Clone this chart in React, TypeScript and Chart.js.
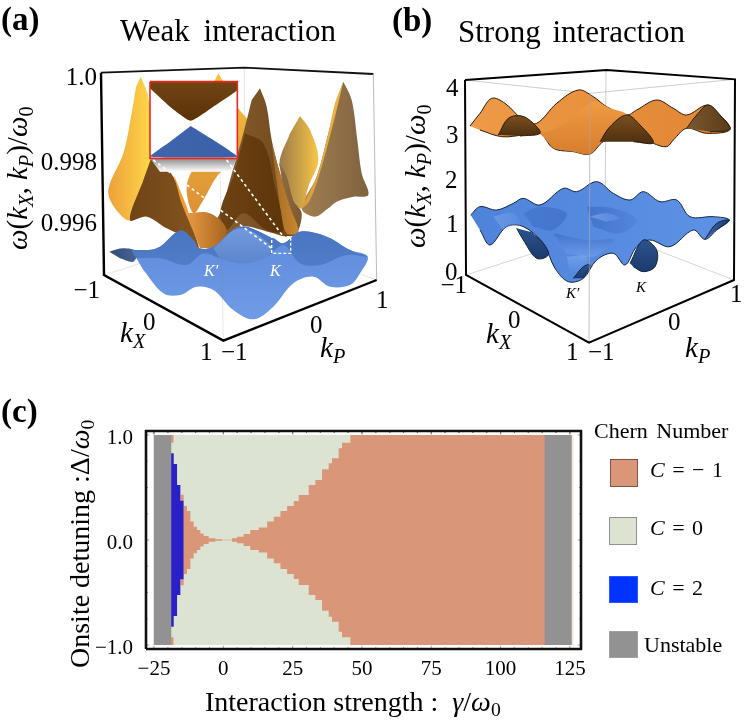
import React, { useEffect, useRef } from "react";
import { Chart, registerables } from "chart.js";
Chart.register(...registerables);

const SERIF = "'Liberation Serif', serif";

// ---------- panel (c) values ----------
const xMajorTicks = [-25, 0, 25, 50, 75, 100, 125];
const yMajorTicks = [-1, 0, 1];
const xMinorTicks = [-20, -15, -10, -5, 5, 10, 15, 20, 30, 35, 40, 45, 55, 60, 65, 70, 80, 85, 90, 95, 105, 110, 115, 120];
const yMinorTicks = [-0.75, -0.5, -0.25, 0.25, 0.5, 0.75];
const xRange = [-27.9, 129];
const yRange = [-1.038, 1.038];
const unstableLeftX = [-25.2, -18.7];
const unstableRightX = [115.8, 125.7];
const unstablePaleX = [125.4, 126.4];
const chernZeroX = [-19.2, 47.5];
const chernMinusCornerX = [-18.9, -17.9];
const chernMinusCornerEdge = 0.927;
const chernMinusX = [-15.5, -14.3, -13.1, -11.9, -10.7, -9.5, -8.3, -7.1, -5.3, -2.9, -0.5, 3.1, 4.9, 7.3, 9.7, 12.8, 15.8, 18.2, 20.6, 23, 25.4, 27.2, 30.8, 33.2, 35.6, 38, 39.2, 41.6, 42.8, 45.8, 116.4];
const chernMinusEdge = [0.43, 0.324, 0.276, 0.175, 0.127, 0.095, 0.063, 0.038, 0.016, 0.006, 0.003, 0.016, 0.032, 0.057, 0.095, 0.118, 0.175, 0.222, 0.276, 0.324, 0.371, 0.429, 0.524, 0.571, 0.673, 0.73, 0.778, 0.873, 0.927, 1, 1];
const chernTwoX = [-19.2, -17.9, -16.7, -15.5, -14.3];
const chernTwoEdge = [0.825, 0.724, 0.524, 0.373, 0.373];

// ---------- panels (a) and (b): projected outlines, in view-plane units ----------
const viewA = [0, 2241];
const viewB = [-1140, 1101];
const viewY = [0, 1170];
type P = number[][];
const aFrameThick: P = [[303, 218], [312, 825], [670, 1022], [1130, 840]];
const aFrameTop: P = [[303, 218], [733, 203], [1120, 222]];
const aFrameRight: P = [[1120, 222], [1130, 840]];
const aFloor1: P = [[312, 825], [735, 690]];
const aFloor2: P = [[735, 690], [1130, 840]];
const aFront: P = [[670, 1022], [655, 240]];
const aBackEdge: P = [[733, 203], [735, 690]];

const aPeakRightBody: P = [[1030, 245], [1055, 300], [1072, 420], [1085, 520], [1105, 585], [1060, 590], [1010, 605], [985, 625], [945, 650], [905, 625], [950, 530], [985, 400], [1010, 300]];
const aPeakRightGold: P = [[1030, 245], [1005, 310], [985, 400], [950, 530], [905, 625], [930, 600], [965, 500], [1005, 350]];
const aPeakMidGold: P = [[900, 348], [930, 390], [955, 480], [925, 560], [905, 625], [880, 600], [860, 540], [838, 490], [870, 400]];
const aPeakMidShade: P = [[838, 490], [860, 530], [880, 600], [905, 640], [890, 695], [860, 640]];
const aPeakBack: P = [[655, 220], [685, 270], [712, 320], [750, 375], [735, 420], [700, 480], [650, 530], [610, 600], [580, 640], [560, 560], [590, 480], [620, 360], [640, 250]];
const aPeakCentre: P = [[780, 265], [800, 320], [815, 420], [840, 520], [870, 620], [895, 695], [860, 710], [820, 700], [720, 680], [650, 730], [620, 700], [660, 640], [690, 540], [730, 400], [755, 300]];
const aPeakCentreDark: P = [[735, 400], [790, 430], [825, 560], [850, 690], [800, 690], [730, 640], [680, 690], [660, 640], [700, 530]];
const aSlopeRight: P = [[815, 430], [840, 520], [870, 620], [895, 695], [860, 700], [840, 620]];
const aFunnelRim: P = [[520, 520], [560, 620], [597, 745], [575, 720], [545, 640]];
const aFunnelFront: P = [[560, 640], [630, 640], [680, 690], [650, 740], [600, 745]];
const aPeakLeftGold: P = [[422, 230], [442, 280], [455, 380], [455, 480], [430, 540], [390, 660], [345, 625], [325, 570], [370, 460], [395, 340], [408, 260]];
const aPeakLeftShade: P = [[455, 470], [490, 500], [520, 530], [545, 610], [597, 745], [560, 715], [500, 685], [440, 650], [390, 660], [430, 540]];
const aBlueBack: P = [[328, 755], [370, 745], [410, 755], [400, 785], [360, 775]];
const aBlueBody: P = [[395, 750], [470, 745], [540, 692], [580, 720], [597, 745], [640, 740], [720, 680], [820, 715], [850, 730], [900, 695], [980, 710], [1050, 750], [1103, 770], [1080, 820], [1050, 855], [990, 860], [940, 830], [880, 850], [820, 920], [760, 958], [700, 930], [640, 870], [590, 860], [540, 885], [490, 880], [430, 810]];
const aBlueBand: P = [[395, 750], [470, 745], [540, 692], [580, 720], [597, 745], [640, 740], [720, 680], [820, 715], [850, 730], [900, 695], [980, 710], [1050, 750], [1103, 770], [1040, 765], [960, 795], [900, 790], [850, 735], [800, 770], [730, 790], [660, 775], [610, 760], [560, 795], [480, 775], [410, 775]];
const aBlueBowl: P = [[640, 745], [720, 685], [815, 740], [800, 770], [730, 790], [660, 775]];
const aInsetShadow: P = [[450, 475], [712, 475], [690, 515], [480, 515]];
const aInsetPaper: P = [[450, 245], [712, 245], [712, 475], [450, 475], [450, 245]];
const aInsetUpper: P = [[450, 245], [712, 245], [712, 270], [640, 320], [572, 362], [510, 320], [450, 265]];
const aInsetLower: P = [[572, 378], [640, 420], [712, 470], [450, 470], [510, 425]];
const aZoomLine1: P = [[460, 480], [815, 745]];
const aZoomLine2: P = [[680, 480], [850, 710]];
const aZoomBox: P = [[815, 710], [872, 710], [872, 760], [815, 760], [815, 710]];

const bFrameThick: P = [[255, 240], [258, 825], [627, 1028], [1062, 840], [1065, 238], [680, 210], [255, 240]];
const bFront: P = [[627, 1028], [630, 280]];
const bBackEdge: P = [[678, 210], [675, 690]];
const bTopLeft: P = [[255, 240], [630, 280]];
const bTopRight: P = [[630, 280], [1065, 238]];
const bFloor1: P = [[258, 825], [675, 690]];
const bFloor2: P = [[675, 690], [1062, 840]];
const bOrangeBody: P = [[270, 378], [300, 340], [335, 295], [375, 310], [430, 360], [470, 370], [530, 310], [595, 270], [640, 290], [680, 320], [740, 345], [770, 330], [830, 300], [880, 325], [920, 345], [980, 315], [1010, 335], [1050, 388], [980, 400], [920, 385], [880, 420], [860, 440], [820, 430], [760, 400], [720, 410], [670, 425], [630, 462], [580, 455], [520, 445], [480, 400], [430, 405], [365, 410], [300, 390]];
const bOrangeFold: P = [[480, 400], [530, 385], [590, 340], [640, 305], [690, 325], [740, 345], [690, 380], [660, 425], [630, 462], [580, 455], [520, 445]];
const bOrangeHump1: P = [[355, 405], [385, 355], [425, 348], [460, 370], [480, 400], [420, 408]];
const bOrangeHump2: P = [[660, 425], [690, 380], [740, 345], [780, 375], [820, 428], [760, 425]];
const bOrangeHump3: P = [[920, 385], [950, 345], [985, 315], [1020, 345], [1050, 388], [990, 395]];
const bBlueBody: P = [[272, 645], [300, 620], [350, 630], [400, 610], [430, 595], [480, 615], [550, 565], [590, 575], [650, 545], [700, 580], [750, 600], [790, 575], [840, 605], [890, 600], [930, 650], [1000, 650], [1048, 660], [1010, 690], [975, 718], [940, 690], [870, 740], [810, 720], [770, 740], [735, 795], [700, 760], [650, 780], [610, 835], [565, 845], [525, 805], [490, 730], [430, 680], [380, 680], [330, 735], [300, 690]];
const bBlueHump1: P = [[410, 685], [430, 720], [470, 775], [505, 765], [490, 730], [450, 695]];
const bBlueHump2: P = [[750, 790], [790, 720], [830, 750], [825, 800], [790, 815], [760, 800]];
const bBlueHump3: P = [[580, 835], [610, 800], [630, 795], [610, 835]];
const bBlueHump4: P = [[975, 718], [1010, 670], [1048, 660], [1010, 690]];
const bBlueShade1: P = [[430, 640], [480, 620], [560, 640], [520, 690], [460, 680]];
const bBlueShade2: P = [[620, 620], [700, 625], [770, 660], [720, 700], [640, 680]];
const bBlueShade3: P = [[520, 700], [620, 720], [700, 720], [640, 770], [560, 760]];
const bBlueGlow1: P = [[630, 650], [680, 640], [720, 655], [680, 665]];
const bBlueGlow2: P = [[340, 650], [400, 640], [420, 680], [370, 690]];
const bBlueGlow3: P = [[560, 770], [620, 770], [610, 810], [570, 815]];

// ---------- styles of the outlines ----------
type Shape = { p: P; c: string[]; v?: boolean; t?: number; line?: string };
const aShapes: Shape[] = [
  { p: aPeakRightBody, c: ["#a07f50", "#80623f"] },
  { p: aPeakRightGold, c: ["#d99a38", "#f0b845"] },
  { p: aPeakMidGold, c: ["#9a7a48", "#f8c648"] },
  { p: aPeakMidShade, c: ["#8c6c46", "#80592c"] },
  { p: aPeakBack, c: ["#f5c243", "#dc9034"], v: true },
  { p: aPeakCentre, c: ["#8a6236", "#6f4617"] },
  { p: aPeakCentreDark, c: ["#6e4313", "#5c3509"] },
  { p: aSlopeRight, c: ["#a26a28", "#c9882f"] },
  { p: aFunnelRim, c: ["#f5a53a", "#e98a25"], t: 0.1 },
  { p: aFunnelFront, c: ["#e89a44", "#a6651f"] },
  { p: aPeakLeftGold, c: ["#eda03c", "#ffd848"] },
  { p: aPeakLeftShade, c: ["#6f4416", "#84551f"] },
  { p: aBlueBack, c: ["#2f4a7a", "#4a6493"] },
  { p: aBlueBody, c: ["#5d8adb", "#6f9be6"], v: true },
  { p: aBlueBand, c: ["#4a74bf", "#4f7cc8"], v: true },
  { p: aBlueBowl, c: ["#7099de", "#5e86cd"], v: true },
];
const aInsetShapes: Shape[] = [
  { p: aInsetShadow, c: ["#8c8c8c", "#ffffff"], v: true, t: 0 },
  { p: aInsetPaper, c: ["#ffffff", "#ffffff"], t: 0 },
  { p: aInsetUpper, c: ["#724414", "#5a3207"], v: true, t: 0.15 },
  { p: aInsetLower, c: ["#3f66ad", "#3a60a8"], t: 0.1 },
];
const bShapes: Shape[] = [
  { p: bOrangeBody, c: ["#ee9a46", "#e08534"], line: "#2b1a08" },
  { p: bOrangeFold, c: ["#f09a42", "#d67e2e"], v: true },
  { p: bOrangeHump1, c: ["#7b4f20", "#4d2f10"], v: true, line: "#2b1a08" },
  { p: bOrangeHump2, c: ["#7b4f20", "#4d2f10"], v: true, line: "#2b1a08" },
  { p: bOrangeHump3, c: ["#7b5a30", "#5b3a18"], line: "#2b1a08" },
  { p: bBlueBody, c: ["#4f83da", "#5e92e6"], line: "#14233f" },
  { p: bBlueShade1, c: ["rgba(45,90,180,0.3)", "rgba(45,90,180,0.4)"] },
  { p: bBlueShade2, c: ["rgba(45,90,180,0.45)", "rgba(45,90,180,0.15)"] },
  { p: bBlueShade3, c: ["rgba(45,90,180,0.45)", "rgba(130,175,245,0.4)"], v: true },
  { p: bBlueGlow1, c: ["rgba(150,190,250,0.5)", "rgba(150,190,250,0.15)"] },
  { p: bBlueGlow2, c: ["rgba(150,190,250,0.35)", "rgba(150,190,250,0.1)"] },
  { p: bBlueGlow3, c: ["rgba(150,190,250,0.35)", "rgba(150,190,250,0.05)"], v: true },
  { p: bBlueHump1, c: ["#2c538f", "#1c3a6c"], v: true, line: "#14233f" },
  { p: bBlueHump2, c: ["#2c538f", "#1c3a6c"], v: true, line: "#14233f" },
  { p: bBlueHump3, c: ["#2c538f", "#1c3a6c"], v: true, line: "#14233f" },
  { p: bBlueHump4, c: ["#3f6aa8", "#1c3a6c"], line: "#14233f" },
];

const pts = (p: P) => p.map(([x, y]) => ({ x, y }));

function surface(s: Shape, xAxisID: string) {
  const xs = s.p.map((q) => q[0]);
  const ys = s.p.map((q) => q[1]);
  const range = xAxisID === "x" ? viewA : viewB;
  return {
    data: pts(s.p),
    xAxisID,
    fill: "shape",
    tension: s.t ?? 0.35,
    borderWidth: s.line ? 1 : 0,
    borderColor: s.line ?? "transparent",
    backgroundColor: (ctx: any) => {
      const { chart } = ctx;
      const px = (v: number) => ((v - range[0]) / (range[1] - range[0])) * chart.width;
      const py = (v: number) => ((v - viewY[0]) / (viewY[1] - viewY[0])) * chart.height;
      const gr = s.v
        ? chart.ctx.createLinearGradient(0, py(Math.min(...ys)), 0, py(Math.max(...ys)))
        : chart.ctx.createLinearGradient(px(Math.min(...xs)), 0, px(Math.max(...xs)), 0);
      gr.addColorStop(0, s.c[0]);
      gr.addColorStop(1, s.c[1]);
      return gr;
    },
  };
}
function stroke(p: P, xAxisID: string, color: string, width: number, dash?: number[]) {
  return { data: pts(p), xAxisID, fill: false, tension: 0, borderColor: color, borderWidth: width, borderDash: dash ?? [], borderCapStyle: "butt", borderJoinStyle: "miter" };
}

const band = (xs: number[], ys: number[], target: number, color: string, stepped = true) => ({
  data: xs.map((x, i) => ({ x, y: ys[i] })),
  fill: { value: target },
  stepped,
  tension: 0,
  borderWidth: 0,
  borderColor: "transparent",
  backgroundColor: color,
});

const SALMON = "#d99679";
const SAGE = "#dce3d2";
const INDIGO = "#2a20c8";
const GREY = "#929292";
const PALE = "#f8e6da";

const serifFont = (size: number) => ({ family: SERIF, size });
const minus = (s: string) => s.replace("-", "\u2212");

function T({ x, y, s, b, i, c, rot, ws, right, children }: any) {
  const st: React.CSSProperties = {
    position: "absolute",
    left: rot ? x - 0.3375 * s : x,
    top: rot ? y : y - 0.3375 * s,
    fontFamily: SERIF,
    fontSize: s,
    lineHeight: 0,
    whiteSpace: "pre",
    fontWeight: b ? 700 : 400,
    fontStyle: i ? "italic" : "normal",
    color: c ?? "#000",
    wordSpacing: ws ?? 0,
    transformOrigin: "0 0",
    transform: rot ? "rotate(-90deg)" : right ? "translateX(-100%)" : undefined,
  };
  return <span style={st}>{children}</span>;
}
const Sub = ({ children, it }: any) => (
  <span style={{ fontSize: "0.7em", position: "relative", top: "0.28em", fontStyle: it ? "italic" : "normal" }}>{children}</span>
);
const OmegaLabel = () => (
  <>
    <i>ω</i>(<i>k</i><Sub it>X</Sub>, <i>k</i><Sub it>P</Sub>)/<i>ω</i><Sub>0</Sub>
  </>
);
const Swatch = ({ x, y, w, h, c, bd }: any) => (
  <div style={{ position: "absolute", left: x, top: y, width: w, height: h, background: c, boxSizing: "border-box", border: `1px solid ${bd}` }} />
);

export default function App() {
  const top = useRef<HTMLCanvasElement>(null);
  const bottom = useRef<HTMLCanvasElement>(null);
  useEffect(() => {
    const painter = (list: any[]) => list.map((d, i) => ({ pointRadius: 0, order: -i, clip: false, ...d }));
    const hidden = (r: number[], reverse = false) => ({ type: "linear", display: false, min: r[0], max: r[1], reverse });
    const view = new Chart(top.current!, {
      type: "line",
      data: {
        datasets: painter([
          stroke(aFloor1, "x", "#d8d8d8", 0.7),
          stroke(aFloor2, "x", "#d8d8d8", 0.7),
          stroke(aBackEdge, "x", "#d8d8d8", 0.7),
          stroke(aFrameTop, "x", "#111", 1.8),
          stroke(aFrameRight, "x", "#aaa", 0.8),
          ...aShapes.map((s) => surface(s, "x")),
          stroke(aFront, "x", "rgba(120,120,120,0.25)", 0.7),
          stroke(aFrameThick, "x", "#000", 2.4),
          ...aInsetShapes.map((s) => surface(s, "x")),
          stroke(aInsetPaper, "x", "#e6281c", 1.6),
          stroke(aZoomLine1, "x", "#fff", 1.6, [3, 3]),
          stroke(aZoomLine2, "x", "#fff", 1.6, [3, 3]),
          stroke(aZoomBox, "x", "#fff", 1.4, [3, 2]),
          stroke(bTopLeft, "xb", "#b8b8b8", 0.7),
          stroke(bTopRight, "xb", "#b8b8b8", 0.7),
          stroke(bFloor1, "xb", "#c4c4c4", 0.7),
          stroke(bFloor2, "xb", "#c4c4c4", 0.7),
          stroke(bBackEdge, "xb", "#b8b8b8", 0.7),
          ...bShapes.map((s) => surface(s, "xb")),
          stroke(bFront, "xb", "#a8a8a8", 0.7),
          stroke(bFrameThick, "xb", "#000", 2),
        ]),
      },
      options: {
        responsive: false,
        animation: false,
        events: [],
        layout: { padding: 0 },
        plugins: { legend: { display: false }, tooltip: { enabled: false } },
        scales: { x: hidden(viewA), xb: hidden(viewB), y: hidden(viewY, true) },
      },
    } as any);

    const tickMarks = (len: number) => {
      const out: any[] = [];
      const xLen = (len * (yRange[1] - yRange[0])) / 218;
      const yLen = (len * (xRange[1] - xRange[0])) / 435;
      for (const x of xMajorTicks.concat(xMinorTicks)) {
        const k = xMajorTicks.includes(x) ? 1.6 : 1;
        out.push({ x, y: yRange[0] }, { x, y: yRange[0] + xLen * k }, { x, y: null });
        out.push({ x, y: yRange[1] }, { x, y: yRange[1] - xLen * k }, { x, y: null });
      }
      for (const y of yMajorTicks.concat(yMinorTicks)) {
        const k = yMajorTicks.includes(y) ? 1.6 : 1;
        out.push({ x: xRange[0], y }, { x: xRange[0] + yLen * k, y }, { x: xRange[0] + yLen * k, y: null });
        out.push({ x: xRange[1], y }, { x: xRange[1] - yLen * k, y }, { x: xRange[1] - yLen * k, y: null });
      }
      return out;
    };
    const phase = new Chart(bottom.current!, {
      type: "line",
      data: {
        datasets: painter([
          band(chernZeroX, [1, 1], -1, SAGE, false),
          band(chernMinusX, chernMinusEdge, 0, SALMON),
          band(chernMinusX, chernMinusEdge.map((v) => -v), 0, SALMON),
          band(chernMinusCornerX, [1, 1], chernMinusCornerEdge, SALMON, false),
          band(chernMinusCornerX, [-1, -1], -chernMinusCornerEdge, SALMON, false),
          band(chernTwoX, chernTwoEdge, 0, INDIGO),
          band(chernTwoX, chernTwoEdge.map((v) => -v), 0, INDIGO),
          band(unstablePaleX, [1, 1], -1, PALE, false),
          band(unstableLeftX, [1, 1], -1, GREY, false),
          band(unstableRightX, [1, 1], -1, GREY, false),
          { data: tickMarks(2), borderColor: "#777", borderWidth: 0.7, fill: false, spanGaps: false, tension: 0 },
          {
            data: [
              { x: xRange[0], y: yRange[0] },
              { x: xRange[1], y: yRange[0] },
              { x: xRange[1], y: yRange[1] },
              { x: xRange[0], y: yRange[1] },
              { x: xRange[0], y: yRange[0] },
            ],
            borderColor: "#111",
            borderWidth: 2.6,
            fill: false,
            tension: 0,
            borderJoinStyle: "miter",
          },
        ]),
      },
      options: {
        responsive: false,
        animation: false,
        events: [],
        layout: { padding: { left: 86, top: 41, right: 166, bottom: 35 } },
        plugins: { legend: { display: false }, tooltip: { enabled: false } },
        scales: {
          x: {
            type: "linear",
            min: xRange[0],
            max: xRange[1],
            grid: { display: false },
            border: { display: false },
            afterBuildTicks: (sc: any) => { sc.ticks = xMajorTicks.map((value) => ({ value })); },
            afterFit: (sc: any) => { sc.height = 40; },
            ticks: { autoSkip: false, maxRotation: 0, padding: 0, color: "#000", font: serifFont(21), callback: (v: number) => minus(String(v)) },
          },
          y: {
            type: "linear",
            min: yRange[0],
            max: yRange[1],
            grid: { display: false },
            border: { display: false },
            afterBuildTicks: (sc: any) => { sc.ticks = yMajorTicks.map((value) => ({ value })); },
            afterFit: (sc: any) => { sc.width = 60; },
            ticks: { autoSkip: false, padding: 5, labelOffset: 3, color: "#000", font: serifFont(21), callback: (v: number) => minus(v.toFixed(1)) },
          },
        },
      },
    } as any);
    return () => {
      view.destroy();
      phase.destroy();
    };
  }, []);

  return (
    <div style={{ position: "absolute", left: 0, top: 0, width: 747, height: 724, background: "#fff", overflow: "hidden" }}>
      <canvas ref={top} width={747} height={390} style={{ position: "absolute", left: 0, top: 0, width: 747, height: 390 }} />
      <canvas ref={bottom} width={747} height={334} style={{ position: "absolute", left: 0, top: 390, width: 747, height: 334 }} />

      <T x={1} y={30} s={33} b>{"(a)"}</T>
      <T x={120} y={41} s={31} ws={6}>Weak interaction</T>
      <T x={97} y={85} s={25} right>1.0</T>
      <T x={97} y={170} s={25} right>0.998</T>
      <T x={97} y={231} s={25} right>0.996</T>
      <T x={27} y={250} s={29} rot><OmegaLabel /></T>
      <T x={100} y={298} s={25} right>{"\u22121"}</T>
      <T x={143} y={330} s={25}>0</T>
      <T x={120} y={342} s={29}><i>k</i><Sub it>X</Sub></T>
      <T x={200} y={360} s={25}>1</T>
      <T x={221} y={360} s={25}>{"\u22121"}</T>
      <T x={310} y={333} s={25}>0</T>
      <T x={320} y={357} s={29}><i>k</i><Sub it>P</Sub></T>
      <T x={376} y={308} s={25}>1</T>
      <T x={204} y={276} s={16} i c="#fff">{"K\u2032"}</T>
      <T x={270} y={276} s={16} i c="#fff">K</T>

      <T x={392} y={31} s={33} b>{"(b)"}</T>
      <T x={458} y={42} s={31} ws={4}>Strong interaction</T>
      <T x={446} y={96} s={25}>4</T>
      <T x={446} y={143} s={25}>3</T>
      <T x={445} y={188} s={25}>2</T>
      <T x={446} y={232} s={25}>1</T>
      <T x={445} y={280} s={25}>0</T>
      <T x={467} y={293} s={25} right>{"\u22121"}</T>
      <T x={508} y={328} s={25}>0</T>
      <T x={486} y={343} s={29}><i>k</i><Sub it>X</Sub></T>
      <T x={566} y={360} s={25}>1</T>
      <T x={588} y={360} s={25}>{"\u22121"}</T>
      <T x={668} y={330} s={25}>0</T>
      <T x={685} y={357} s={29}><i>k</i><Sub it>P</Sub></T>
      <T x={730} y={302} s={25}>1</T>
      <T x={566} y={298} s={15} i>{"K\u2032"}</T>
      <T x={636} y={292} s={15} i>K</T>
      <T x={425} y={248} s={29} rot><OmegaLabel /></T>

      <T x={1} y={422} s={33} b>{"(c)"}</T>
      <T x={89} y={668} s={28} rot>Onsite detuning :Δ/<i>ω</i><Sub>0</Sub></T>
      <T x={205} y={711} s={28}>{"Interaction strength :  "}<i>γ</i>/<i>ω</i><Sub>0</Sub></T>

      <T x={594} y={438} s={22} ws={3}>Chern Number</T>
      <Swatch x={610} y={459} w={28} h={28} c={SALMON} bd="#7a5546" />
      <Swatch x={609} y={517} w={28} h={28} c={SAGE} bd="#8f948a" />
      <Swatch x={609} y={576} w={29} h={27} c="#0033ff" bd="#2a55ff" />
      <Swatch x={609} y={631} w={29} h={27} c={GREY} bd="#a0a0a0" />
      <T x={650} y={477} s={22} ws={2}><i>C</i>{" = \u2212 1"}</T>
      <T x={650} y={535} s={22} ws={2}><i>C</i>{" = 0"}</T>
      <T x={650} y={595} s={22} ws={2}><i>C</i>{" = 2"}</T>
      <T x={644} y={652} s={22}>Unstable</T>
    </div>
  );
}
